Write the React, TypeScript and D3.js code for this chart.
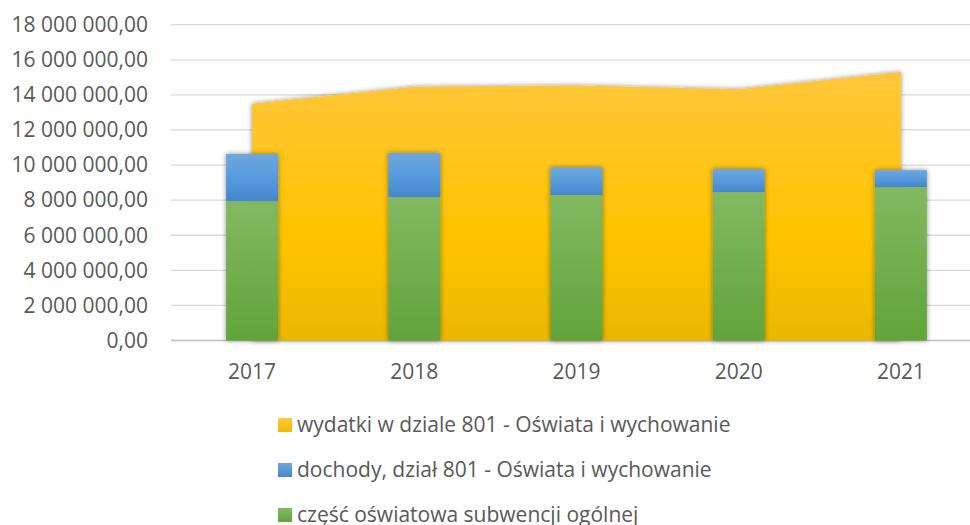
import React from "react";
import * as d3 from "d3";

const years = ["2017", "2018", "2019", "2020", "2021"];
const wydatki = [13490000, 14470000, 14530000, 14320000, 15310000];
const subwencja = [7940000, 8170000, 8290000, 8460000, 8740000];
const dochodyTotal = [10630000, 10690000, 9870000, 9770000, 9710000];
const yTicks = [0, 2000000, 4000000, 6000000, 8000000, 10000000, 12000000, 14000000, 16000000, 18000000];
const legendLabels = [
  "wydatki w dziale 801 - Oświata i wychowanie",
  "dochody, dział 801 - Oświata i wychowanie",
  "część oświatowa subwencji ogólnej",
];

const W = 970;
const H = 525;
const left = 171;
const right = 982;
const top = 24.7;
const bottom = 340.5;
const font = "'Open Sans', sans-serif";
const textColor = "#595959";

function fmt(v: number) {
  const s = d3.format(",.2f")(v);
  return s.replace(/,/g, " ").replace(".", ",");
}

export default function App() {
  const x = d3.scaleBand<string>().domain(years).range([left, right]).paddingInner(0).paddingOuter(0);
  const y = d3.scaleLinear().domain([0, 18000000]).range([bottom, top]);
  const bw = 52;
  const cx = (d: string) => (x(d) as number) + x.bandwidth() / 2;

  const areaGen = d3
    .area<number>()
    .x((_, i) => cx(years[i]))
    .y0(y(0))
    .y1((d) => y(d));

  return (
    <svg width={W} height={H} style={{ position: "absolute", left: 0, top: 0, display: "block" }}>
      <defs>
        <linearGradient id="gY" x1="0" y1="0" x2="0" y2="1" gradientUnits="objectBoundingBox">
          <stop offset="0" stopColor="#FFC63C" />
          <stop offset="0.6" stopColor="#FFC400" />
          <stop offset="1" stopColor="#EBB800" />
        </linearGradient>
        <linearGradient id="gB" x1="0" y1="0" x2="0" y2="1">
          <stop offset="0" stopColor="#6FA7DC" />
          <stop offset="0.5" stopColor="#569BDE" />
          <stop offset="1" stopColor="#4487CA" />
        </linearGradient>
        <linearGradient id="gG" x1="0" y1="0" x2="0" y2="1">
          <stop offset="0" stopColor="#82B961" />
          <stop offset="1" stopColor="#62A43A" />
        </linearGradient>
        <linearGradient id="lgY" x1="0" y1="0" x2="0" y2="1">
          <stop offset="0" stopColor="#FFCA40" />
          <stop offset="1" stopColor="#F0B800" />
        </linearGradient>
        <linearGradient id="lgB" x1="0" y1="0" x2="0" y2="1">
          <stop offset="0" stopColor="#6FA7DC" />
          <stop offset="1" stopColor="#4487CA" />
        </linearGradient>
        <linearGradient id="lgG" x1="0" y1="0" x2="0" y2="1">
          <stop offset="0" stopColor="#82B961" />
          <stop offset="1" stopColor="#62A43A" />
        </linearGradient>
        <filter id="sh" x="-20%" y="-20%" width="140%" height="140%">
          <feDropShadow dx="0" dy="0" stdDeviation="2.5" floodColor="#000" floodOpacity="0.45" />
        </filter>
      </defs>

      {yTicks.map((t) => (
        <g key={t}>
          <line
            x1={left}
            x2={W}
            y1={y(t)}
            y2={y(t)}
            stroke={t === 0 ? "#BFBFBF" : "#D9D9D9"}
            strokeWidth={t === 0 ? 1.6 : 1.3}
          />
          <text
            x={148}
            y={y(t)}
            dy="0.35em"
            textAnchor="end"
            fontFamily={font}
            fontSize={21}
            fill={textColor}
          >
            {fmt(t)}
          </text>
        </g>
      ))}

      <path d={areaGen(wydatki) || ""} fill="url(#gY)" filter="url(#sh)" />

      {years.map((yr, i) => (
        <g key={yr} filter="url(#sh)">
          <rect x={cx(yr) - bw / 2} y={y(subwencja[i])} width={bw} height={y(0) - y(subwencja[i])} fill="url(#gG)" />
          <rect
            x={cx(yr) - bw / 2}
            y={y(dochodyTotal[i])}
            width={bw}
            height={y(subwencja[i]) - y(dochodyTotal[i])}
            fill="url(#gB)"
          />
        </g>
      ))}

      {years.map((yr) => (
        <text key={yr} x={cx(yr)} y={379} textAnchor="middle" fontFamily={font} fontSize={21} fill={textColor}>
          {yr}
        </text>
      ))}

      {legendLabels.map((lab, i) => {
        const by = 432 + i * 45;
        const fills = ["url(#lgY)", "url(#lgB)", "url(#lgG)"];
        return (
          <g key={lab}>
            <rect x={278} y={by - 14} width={14} height={14} fill={fills[i]} />
            <text x={297} y={by} fontFamily={font} fontSize={21} fill={textColor}>
              {lab}
            </text>
          </g>
        );
      })}
    </svg>
  );
}
